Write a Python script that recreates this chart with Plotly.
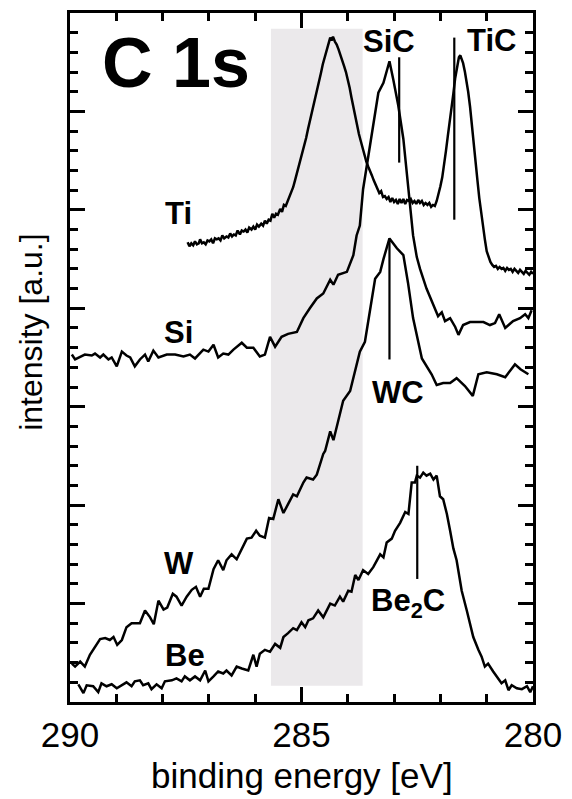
import plotly.graph_objects as go

# ---------------- data ----------------
ti_e = [287.46,287.42,287.38,287.34,287.30,287.26,287.22,287.19,287.15,287.11,287.07,287.03,286.99,286.95,286.91,286.87,286.83,286.79,286.75,286.71,
        286.67,286.62,286.58,286.54,286.50,286.46,286.42,286.38,286.33,286.29,286.25,286.21,286.17,286.13,286.08,286.04,286.00,285.96,285.92,285.87,
        285.83,285.79,285.75,285.71,285.67,285.63,285.59,285.55,285.51,285.46,285.42,285.38,285.34,285.30,285.26,285.22,285.18,285.14,285.10,285.06,
        285.02,284.98,284.94,284.90,284.86,284.82,284.78,284.74,284.70,284.66,284.62,284.58,284.54,284.50,284.46,284.42,284.38,284.35,284.32,284.28,
        284.24,284.20,284.16,284.12,284.08,284.04,284.00,283.96,283.92,283.88,283.84,283.80,283.76,283.72,283.68,283.64,283.60,283.56,283.52,283.48,
        283.44,283.40,283.36,283.32,283.28,283.24,283.20,283.16,283.12,283.08,283.04,283.00,282.96,282.92,282.88,282.84,282.80,282.76,282.72,282.68,
        282.64,282.60,282.56,282.52,282.48,282.44,282.40,282.36,282.32,282.28,282.24,282.20,282.16,282.12,282.08,282.04,282.00,281.96,281.92,281.88,
        281.84,281.80,281.76,281.72,281.68,281.64,281.60,281.57,281.54,281.51,281.47,281.43,281.40,281.36,281.32,281.28,281.24,281.20,281.16,281.12,
        281.08,281.04,281.00,280.96,280.92,280.88,280.84,280.80,280.76,280.72,280.68,280.64,280.60,280.56,280.52,280.48,280.44,280.40,280.36,280.32,
        280.28,280.24,280.20,280.16,280.12,280.08,280.04,280.00]
ti_i = [4.67,4.63,4.66,4.64,4.68,4.65,4.66,4.70,4.66,4.67,4.65,4.69,4.68,4.70,4.66,4.71,4.70,4.71,4.69,4.74,
        4.71,4.73,4.72,4.76,4.73,4.75,4.74,4.79,4.75,4.79,4.78,4.80,4.77,4.82,4.80,4.83,4.80,4.85,4.83,4.86,
        4.84,4.89,4.86,4.90,4.89,4.96,4.92,4.96,4.95,5.01,4.98,5.05,5.04,5.09,5.13,5.17,5.23,5.30,5.37,5.44,
        5.52,5.58,5.66,5.73,5.82,5.90,5.96,6.05,6.13,6.22,6.30,6.39,6.48,6.55,6.62,6.69,6.75,6.72,6.76,6.71,
        6.68,6.63,6.58,6.52,6.46,6.40,6.33,6.24,6.14,6.04,5.95,5.86,5.77,5.70,5.62,5.55,5.49,5.44,5.40,5.35,
        5.30,5.25,5.22,5.17,5.19,5.13,5.14,5.11,5.13,5.08,5.12,5.08,5.10,5.06,5.11,5.07,5.11,5.06,5.10,5.09,
        5.11,5.07,5.09,5.06,5.10,5.07,5.09,5.05,5.07,5.05,5.07,5.03,5.05,5.04,5.09,5.16,5.24,5.33,5.45,5.60,
        5.75,5.88,6.02,6.18,6.34,6.46,6.55,6.57,6.53,6.49,6.40,6.30,6.20,6.05,5.88,5.70,5.50,5.30,5.12,4.96,
        4.84,4.70,4.58,4.52,4.47,4.44,4.42,4.43,4.40,4.42,4.40,4.41,4.38,4.41,4.39,4.40,4.37,4.40,4.38,4.36,
        4.39,4.37,4.35,4.38,4.36,4.34,4.37,4.35]

si_e = [289.96,289.89,289.68,289.53,289.46,289.35,289.28,289.17,289.10,288.99,288.88,288.78,288.70,288.60,288.49,288.38,288.31,288.20,288.09,287.91,
        287.73,287.55,287.41,287.30,287.12,287.01,286.90,286.80,286.69,286.58,286.47,286.29,286.18,286.04,285.90,285.79,285.68,285.57,285.43,285.29,
        285.10,284.96,284.82,284.67,284.53,284.38,284.31,284.21,284.02,283.88,283.81,283.74,283.67,283.56,283.45,283.34,283.23,283.10,283.02,282.91,
        282.80,282.73,282.66,282.59,282.51,282.44,282.30,282.15,282.05,281.97,281.90,281.79,281.68,281.61,281.51,281.36,281.22,281.07,280.93,280.82,
        280.73,280.60,280.43,280.28,280.17,280.10,280.03]
si_i = [3.53,3.48,3.53,3.52,3.54,3.50,3.53,3.48,3.50,3.41,3.56,3.52,3.50,3.41,3.48,3.53,3.46,3.57,3.50,3.53,
        3.53,3.51,3.53,3.49,3.58,3.56,3.63,3.50,3.54,3.53,3.58,3.65,3.60,3.60,3.51,3.53,3.71,3.61,3.71,3.74,
        3.76,3.90,4.00,4.10,4.15,4.29,4.24,4.34,4.37,4.54,4.74,4.84,5.21,5.55,5.89,6.19,6.29,6.51,6.33,6.06,
        5.72,5.38,5.05,4.74,4.52,4.40,4.20,4.03,3.92,3.96,3.87,3.90,3.81,3.73,3.83,3.86,3.86,3.86,3.83,3.85,
        3.94,3.80,3.87,3.90,3.94,3.90,3.98]

w_e = [289.96,289.89,289.78,289.68,289.57,289.35,289.24,289.14,289.06,288.98,288.88,288.78,288.67,288.49,288.38,288.27,288.19,288.09,287.98,287.90,
       287.78,287.70,287.59,287.48,287.37,287.28,287.19,287.11,287.01,286.90,286.80,286.69,286.62,286.51,286.40,286.18,286.08,285.98,285.90,285.79,
       285.70,285.61,285.50,285.39,285.29,285.18,285.10,284.96,284.89,284.75,284.67,284.53,284.49,284.38,284.31,284.21,284.10,283.95,283.88,283.81,
       283.74,283.63,283.56,283.48,283.41,283.30,283.23,283.10,282.94,282.80,282.70,282.59,282.40,282.19,282.08,281.94,281.79,281.65,281.47,281.30,
       281.18,281.00,280.78,280.60,280.39,280.27,280.10]
w_i = [0.39,0.36,0.41,0.36,0.48,0.64,0.65,0.63,0.66,0.58,0.63,0.76,0.80,0.80,0.93,0.86,0.79,1.03,0.94,0.96,
       1.10,1.07,0.98,1.07,1.14,1.17,1.07,1.15,1.15,1.35,1.44,1.34,1.44,1.50,1.45,1.66,1.67,1.74,1.69,1.67,
       1.87,1.86,2.06,1.92,2.01,2.11,2.09,2.23,2.28,2.26,2.31,2.52,2.55,2.75,2.66,2.84,3.06,3.16,3.29,3.43,
       3.56,3.66,3.86,4.13,4.30,4.37,4.50,4.71,4.61,4.54,4.26,3.90,3.49,3.33,3.22,3.24,3.24,3.29,3.21,3.11,
       3.33,3.35,3.33,3.30,3.43,3.38,3.33]

be_e = [289.82,289.71,289.64,289.50,289.39,289.32,289.21,289.10,288.99,288.88,288.78,288.67,288.60,288.49,288.42,288.31,288.24,288.13,288.02,287.95,
        287.80,287.70,287.59,287.52,287.41,287.30,287.19,287.08,287.01,286.90,286.80,286.69,286.62,286.51,286.40,286.29,286.15,286.04,285.97,285.90,
        285.79,285.68,285.57,285.46,285.39,285.29,285.18,285.10,285.00,284.92,284.85,284.75,284.64,284.53,284.38,284.28,284.17,284.10,283.99,283.92,
        283.84,283.77,283.67,283.56,283.45,283.30,283.23,283.16,283.05,282.98,282.87,282.76,282.69,282.62,282.55,282.51,282.44,282.37,282.30,282.22,
        282.15,282.08,282.01,281.94,281.86,281.79,281.72,281.65,281.54,281.43,281.36,281.29,281.18,281.11,281.04,280.97,280.86,280.78,280.68,280.60,
        280.53,280.46,280.35,280.24,280.13,280.06,280.00]
be_i = [0.18,0.09,0.17,0.16,0.10,0.19,0.16,0.18,0.14,0.17,0.20,0.16,0.21,0.22,0.17,0.19,0.13,0.18,0.14,0.21,
        0.22,0.24,0.21,0.26,0.22,0.26,0.22,0.32,0.21,0.26,0.31,0.29,0.32,0.27,0.36,0.34,0.32,0.48,0.36,0.49,
        0.53,0.51,0.59,0.55,0.66,0.70,0.75,0.73,0.81,0.76,0.83,0.85,0.93,0.86,1.00,0.98,1.07,1.02,1.13,1.12,
        1.29,1.24,1.34,1.30,1.37,1.50,1.47,1.62,1.66,1.74,1.82,1.93,1.91,2.23,2.23,2.30,2.28,2.33,2.30,2.32,
        2.26,2.30,2.09,2.06,1.91,1.74,1.56,1.44,1.13,0.93,0.80,0.66,0.53,0.46,0.36,0.39,0.31,0.26,0.19,0.22,
        0.12,0.17,0.14,0.13,0.16,0.10,0.16]

# reference (carbide) marker lines
ref_names = ["SiC", "TiC", "WC", "Be2C"]
ref_e = [282.89, 281.70, 283.10, 282.50]
ref_lo = [5.48, 4.90, 3.48, 1.25]
ref_hi = [6.55, 6.75, 4.70, 2.40]

# shaded band (binding energy window)
band_e = [285.66, 283.68]
band_i = [0.165, 6.84]

# tick values
x_major = [290, 285, 280]
x_tick_text = ["290", "285", "280"]

FONT = "Liberation Sans, Arial, sans-serif"

fig = go.Figure()

fig.add_shape(type="rect", xref="x", yref="y", x0=band_e[0], x1=band_e[1],
              y0=band_i[0], y1=band_i[1], fillcolor="#ebe9eb", line_width=0, layer="below")

for e, i in [(ti_e, ti_i), (si_e, si_i), (w_e, w_i), (be_e, be_i)]:
    fig.add_trace(go.Scatter(x=e, y=i, mode="lines", line=dict(color="black", width=2.5),
                             showlegend=False, hoverinfo="skip"))

for e, lo, hi in zip(ref_e, ref_lo, ref_hi):
    fig.add_shape(type="line", xref="x", yref="y", x0=e, x1=e, y0=lo, y1=hi,
                  line=dict(color="black", width=2.2))

labels = [
    ("C 1s", 287.71, 6.49, 70),
    ("Ti", 287.66, 4.96, 31),
    ("Si", 287.65, 3.75, 31),
    ("W", 287.65, 1.41, 31),
    ("Be", 287.52, 0.475, 31),
    ("SiC", 283.11, 6.71, 31),
    ("TiC", 280.89, 6.72, 31),
    ("WC", 282.92, 3.14, 31),
]
for t, x, y, s in labels:
    fig.add_annotation(text="<b>%s</b>" % t, x=x, y=y, xref="x", yref="y", showarrow=False,
                       xanchor="center", yanchor="middle", font=dict(family=FONT, size=s, color="black"))
fig.add_annotation(text="<b>Be<sub>2</sub>C</b>", x=282.70, y=1.01, xref="x", yref="y", showarrow=False,
                   xanchor="center", yanchor="middle", font=dict(family=FONT, size=31, color="black"))

# axis titles
fig.add_annotation(text="binding energy [eV]", x=0.5, y=-0.106, xref="paper", yref="paper",
                   showarrow=False, xanchor="center", yanchor="middle",
                   font=dict(family=FONT, size=35, color="black"))
fig.add_annotation(text="intensity [a.u.]", x=-0.084, y=0.536, xref="paper", yref="paper",
                   showarrow=False, xanchor="center", yanchor="middle", textangle=-90,
                   font=dict(family=FONT, size=32, color="black"))

fig.update_layout(
    width=564, height=791,
    margin=dict(l=62, r=39, t=2, b=97),
    paper_bgcolor="white", plot_bgcolor="white",
    font=dict(family=FONT, color="black"),
)
fig.update_xaxes(
    range=[290, 280], tickmode="array", tickvals=x_major, ticktext=x_tick_text,
    ticks="inside", ticklen=15, tickwidth=2.5, tickcolor="black",
    minor=dict(dtick=1, ticks="inside", ticklen=8, tickwidth=2.5, tickcolor="black"),
    showline=True, linewidth=2.5, linecolor="black", mirror="ticks",
    showgrid=False, zeroline=False,
    tickfont=dict(family=FONT, size=35, color="black"),
)
fig.update_yaxes(
    range=[0, 7], dtick=1, tick0=0, showticklabels=False,
    ticks="inside", ticklen=15, tickwidth=2.5, tickcolor="black",
    minor=dict(dtick=0.2, ticks="inside", ticklen=8, tickwidth=2.5, tickcolor="black"),
    showline=True, linewidth=2.5, linecolor="black", mirror="ticks",
    showgrid=False, zeroline=False,
)

fig.write_html("out.html")
